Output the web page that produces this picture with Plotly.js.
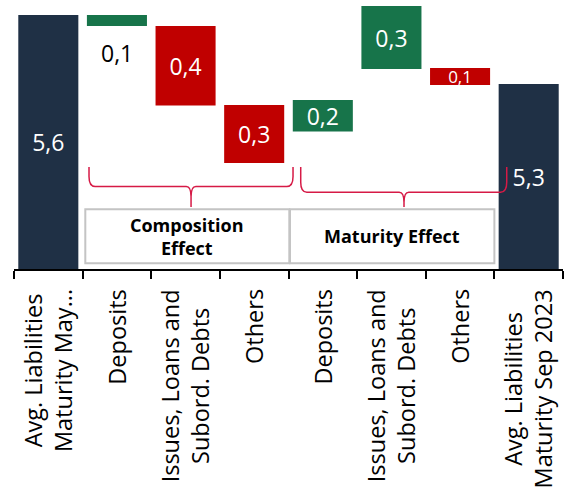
<!DOCTYPE html>
<html>
<head>
<meta charset="utf-8">
<script src="https://cdn.plot.ly/plotly-3.0.1.min.js"></script>
<style>html,body{margin:0;padding:0;background:#fff;}#chart{width:565px;height:494px;}</style>
</head>
<body>
<div id="chart"></div>
<script>
// ---- data ----
const categories = [
  'Avg. Liabilities<br>Maturity May...',
  'Deposits',
  'Issues, Loans and<br>Subord. Debts',
  'Others',
  'Deposits',
  'Issues, Loans and<br>Subord. Debts',
  'Others',
  'Avg. Liabilities<br>Maturity Sep 2023'
];
const valueLabels = ['5,6', '0,1', '0,4', '0,3', '0,2', '0,3', '0,1', '5,3'];
const Y_FLOOR = 4.38;
const barTop    = [5.65, 5.65, 5.595, 5.20, 5.225, 5.695, 5.385, 5.305];
const barBottom = [Y_FLOOR, 5.595, 5.197, 4.91, 5.067, 5.38, 5.30, Y_FLOOR];
const kinds = ['total', 'increase', 'decrease', 'decrease', 'increase', 'increase', 'decrease', 'total'];
const groupNames = ['Composition<br>Effect', 'Maturity Effect'];

// ---- styles ----
const COLORS = {total: '#1f3045', increase: '#17744a', decrease: '#c00000'};
const FONT = '"Open Sans", "DejaVu Sans", sans-serif';
const BRACE = '#d61a46';
const OUTSIDE_IDX = 1;

const idx = categories.map((_, i) => i);

const trace = {
  type: 'bar',
  x: idx,
  base: barTop,
  y: barTop.map((t, i) => barBottom[i] - t),
  marker: {color: kinds.map(k => COLORS[k]), line: {width: 0}},
  text: valueLabels,
  textposition: idx.map(i => (i === OUTSIDE_IDX ? 'none' : 'inside')),
  insidetextanchor: 'middle',
  insidetextfont: {family: FONT, color: '#ffffff', size: idx.map(i => (i === 6 ? 17 : 23))},
  constraintext: 'none',
  textangle: 0,
  cliponaxis: false,
  hoverinfo: 'skip'
};

function brace(x0, x1, xt, yTop, yH, yTip) {
  const r = 0.09, tr = 0.07;
  const yc = yH + 0.05;
  return `M ${x0},${yTop} L ${x0},${yc} Q ${x0},${yH} ${x0 + r},${yH} ` +
         `L ${xt - tr},${yH} Q ${xt},${yH} ${xt},${yH - 0.05} L ${xt},${yTip} ` +
         `M ${xt},${yH - 0.05} Q ${xt},${yH} ${xt + tr},${yH} ` +
         `L ${x1 - r},${yH} Q ${x1},${yH} ${x1},${yc} L ${x1},${yTop}`;
}

const shapes = [
  {type: 'path', xref: 'x', yref: 'y', path: brace(0.593, 3.566, 2.08, 4.89, 4.792, 4.69),
   line: {color: BRACE, width: 1.5}},
  {type: 'path', xref: 'x', yref: 'y', path: brace(3.678, 6.68, 5.183, 4.89, 4.764, 4.69),
   line: {color: BRACE, width: 1.5}},
  {type: 'rect', xref: 'x', yref: 'y', x0: 0.539, x1: 3.512, y0: 4.4085, y1: 4.6785,
   fillcolor: '#ffffff', line: {color: '#c4c4c4', width: 2}},
  {type: 'rect', xref: 'x', yref: 'y', x0: 3.522, x1: 6.5, y0: 4.4085, y1: 4.6785,
   fillcolor: '#ffffff', line: {color: '#c4c4c4', width: 2}}
];

const annotations = [];
categories.forEach((c, i) => {
  annotations.push({
    x: i, xref: 'x', y: -0.068, yref: 'paper', xanchor: 'center', yanchor: 'top',
    text: c, textangle: -90, align: 'center', showarrow: false,
    font: {family: FONT, size: 23.5, color: '#000000'}
  });
});
// label of the small bar, drawn below it
annotations.push({
  x: OUTSIDE_IDX, xref: 'x', y: barBottom[OUTSIDE_IDX], yref: 'y', xanchor: 'center', yanchor: 'top',
  yshift: -9, text: valueLabels[OUTSIDE_IDX], showarrow: false,
  font: {family: FONT, size: 23, color: '#000000'}
});
annotations.push({x: 2.025, xref: 'x', y: 4.5435, yref: 'y', xanchor: 'center', yanchor: 'middle',
  text: groupNames[0], showarrow: false, align: 'center',
  font: {family: FONT, size: 18, color: '#000000', weight: 700}});
annotations.push({x: 5.011, xref: 'x', y: 4.5435, yref: 'y', xanchor: 'center', yanchor: 'middle',
  text: groupNames[1], showarrow: false, align: 'center',
  font: {family: FONT, size: 18, color: '#000000', weight: 700}});

const boundaries = [];
for (let i = 0; i <= categories.length; i++) boundaries.push(i - 0.5);

const layout = {
  width: 565, height: 494,
  margin: {l: 14, r: 2, t: 0, b: 225, pad: 0},
  paper_bgcolor: '#ffffff', plot_bgcolor: '#ffffff',
  showlegend: false,
  bargap: 0.125,
  xaxis: {
    type: 'linear', range: [-0.5, categories.length - 0.5],
    tickmode: 'array', tickvals: boundaries, showticklabels: false,
    ticks: 'outside', ticklen: 8, tickwidth: 2, tickcolor: '#000000',
    showline: true, linecolor: '#000000', linewidth: 2,
    showgrid: false, zeroline: false, fixedrange: true
  },
  yaxis: {range: [Y_FLOOR, 5.725], visible: false, showgrid: false, zeroline: false, fixedrange: true},
  shapes: shapes,
  annotations: annotations,
  font: {family: FONT}
};

Plotly.newPlot('chart', [trace], layout, {displayModeBar: false, staticPlot: true});
</script>
</body>
</html>
